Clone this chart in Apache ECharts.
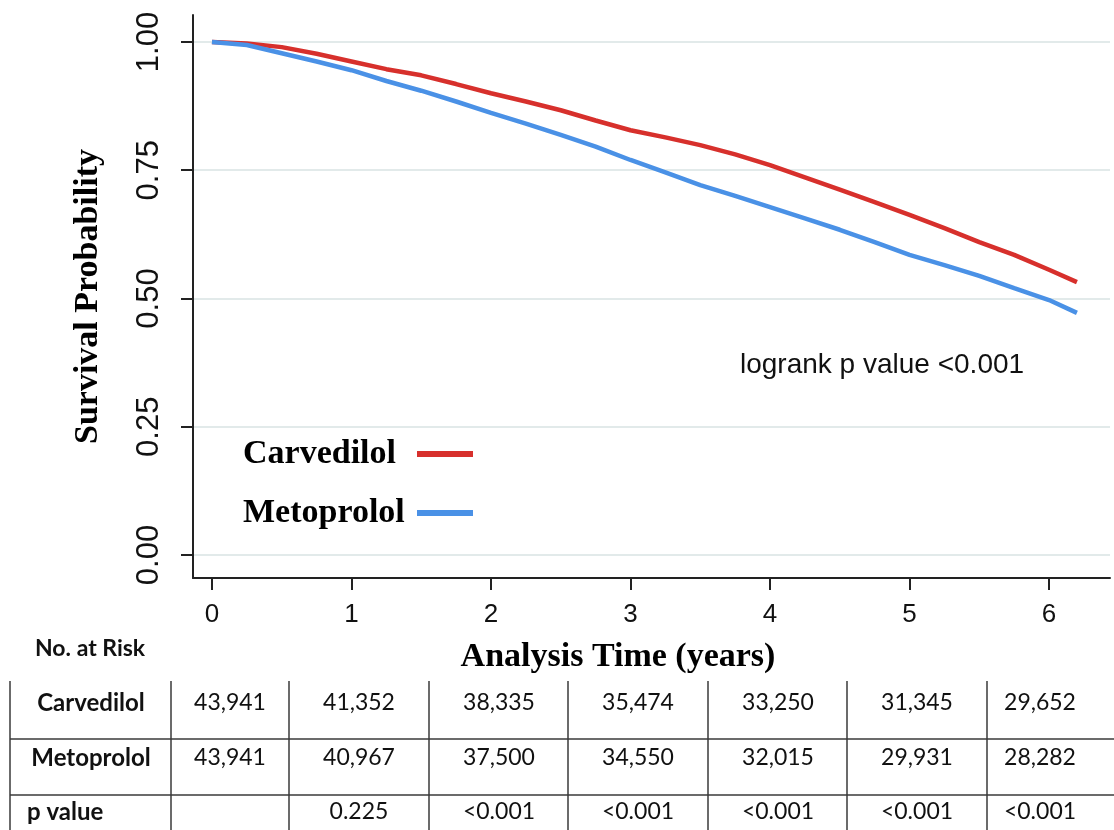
<!DOCTYPE html>
<html>
<head>
<meta charset="utf-8">
<title>Survival</title>
<script src="https://cdn.jsdelivr.net/npm/echarts@6/dist/echarts.min.js"></script>
<style>
  html, body { margin: 0; padding: 0; background: #fff; }
  #chart { width: 1114px; height: 830px; }
</style>
</head>
<body>
<div id="chart"></div>
<script>
// survival curves (years / probability)
const years = [0, 0.25, 0.5, 0.75, 1, 1.25, 1.5, 1.75, 2, 2.25, 2.5, 2.75, 3, 3.25, 3.5, 3.75, 4, 4.25, 4.5, 4.75, 5, 5.25, 5.5, 5.75, 6, 6.2];
const carvedilol = [1.000, 0.997, 0.990, 0.977, 0.962, 0.947, 0.935, 0.918, 0.900, 0.884, 0.867, 0.847, 0.828, 0.814, 0.799, 0.781, 0.760, 0.736, 0.712, 0.688, 0.663, 0.637, 0.610, 0.585, 0.556, 0.532];
const metoprolol = [1.000, 0.994, 0.978, 0.962, 0.945, 0.924, 0.905, 0.884, 0.862, 0.841, 0.819, 0.796, 0.770, 0.746, 0.721, 0.700, 0.678, 0.656, 0.634, 0.610, 0.585, 0.565, 0.544, 0.520, 0.497, 0.472];

const xTicks = [0, 1, 2, 3, 4, 5, 6];
const yTicks = [0, 0.25, 0.5, 0.75, 1];

// number at risk table
const rowLabels = ["Carvedilol", "Metoprolol", "p value"];
const riskCarvedilol = ["43,941", "41,352", "38,335", "35,474", "33,250", "31,345", "29,652"];
const riskMetoprolol = ["43,941", "40,967", "37,500", "34,550", "32,015", "29,931", "28,282"];
const pValues = ["", "0.225", "<0.001", "<0.001", "<0.001", "<0.001", "<0.001"];

// table layout (pixels)
const colCenters = [230, 359, 499, 638, 778, 917, 1040];
const colLines = [10, 171, 289, 429, 568, 708, 847, 987];
const rowTextY = [703, 758, 812];
const rowLines = [739, 795];

const RED = "#d7302c";
const BLUE = "#4a91e6";

const chart = echarts.init(document.getElementById("chart"));

const tableGraphics = [];
colLines.forEach(function (x) {
  tableGraphics.push({
    type: "line", shape: { x1: x, y1: 681, x2: x, y2: 830 },
    style: { stroke: "#3a3a3a", lineWidth: 1.5 }
  });
});
rowLines.forEach(function (y) {
  tableGraphics.push({
    type: "line", shape: { x1: 10, y1: y, x2: 1114, y2: y },
    style: { stroke: "#3a3a3a", lineWidth: 1.5 }
  });
});
const cellFont = { fontFamily: "Lato", fontSize: 23, fill: "#111", verticalAlign: "middle" };
[riskCarvedilol, riskMetoprolol, pValues].forEach(function (row, r) {
  row.forEach(function (txt, c) {
    tableGraphics.push({
      type: "text", x: colCenters[c], y: rowTextY[r],
      style: Object.assign({ text: txt, align: "center" }, cellFont)
    });
  });
  tableGraphics.push({
    type: "text", x: r < 2 ? 91 : 27, y: rowTextY[r],
    style: Object.assign({}, cellFont, { text: rowLabels[r], align: r < 2 ? "center" : "left", fontWeight: "bold", fontSize: 24 })
  });
});

const option = {
  animation: false,
  grid: { left: 193, right: 4, top: 15, bottom: 252 },
  legend: {
    left: 243,
    top: 437,
    orient: "vertical",
    align: "right",
    padding: 0,
    itemGap: 20,
    itemWidth: 56,
    itemHeight: 6,
    icon: "rect",
    formatter: function (name) { return "{n|" + name + "}"; },
    textStyle: {
      rich: {
        n: {
          width: 169, align: "left", lineHeight: 40,
          fontFamily: "Liberation Serif", fontWeight: "bold", fontSize: 34, color: "#000"
        }
      }
    },
    data: ["Carvedilol", "Metoprolol"]
  },
  xAxis: {
    type: "value",
    min: -0.136,
    max: 6.437,
    axisLine: { show: true, onZero: false, lineStyle: { color: "#222", width: 2 } },
    axisTick: { show: true, customValues: xTicks, length: 12, lineStyle: { color: "#222", width: 2 } },
    axisLabel: {
      customValues: xTicks, margin: 24,
      fontFamily: "Liberation Sans", fontSize: 26, color: "#111"
    },
    splitLine: { show: false }
  },
  yAxis: {
    type: "value",
    min: -0.0448,
    max: 1.0526,
    name: "Survival Probability",
    nameLocation: "middle",
    nameGap: 88,
    nameTextStyle: { fontFamily: "Liberation Serif", fontWeight: "bold", fontSize: 34, color: "#000" },
    axisLine: { show: true, onZero: false, lineStyle: { color: "#222", width: 2 } },
    axisTick: { show: true, customValues: yTicks, length: 12, lineStyle: { color: "#222", width: 2 } },
    axisLabel: {
      customValues: yTicks, rotate: 90, margin: 28,
      fontFamily: "Liberation Sans", fontSize: 31, color: "#111",
      formatter: function (v) { return v.toFixed(2); }
    },
    splitLine: { show: true, lineStyle: { color: "#e2eaea", width: 2 } }
  },
  series: [
    {
      name: "Carvedilol",
      type: "line",
      data: years.map(function (t, i) { return [t, carvedilol[i]]; }),
      showSymbol: false,
      itemStyle: { color: RED },
      lineStyle: { color: RED, width: 4.5 },
      z: 2
    },
    {
      name: "Metoprolol",
      type: "line",
      data: years.map(function (t, i) { return [t, metoprolol[i]]; }),
      showSymbol: false,
      itemStyle: { color: BLUE },
      lineStyle: { color: BLUE, width: 4.5 },
      z: 3
    }
  ],
  graphic: [
    {
      type: "text", x: 740, y: 365,
      style: { text: "logrank p value <0.001", fontFamily: "Liberation Sans", fontSize: 28, fill: "#111", verticalAlign: "middle" }
    },
    {
      type: "text", x: 618, y: 657,
      style: { text: "Analysis Time (years)", fontFamily: "Liberation Serif", fontWeight: "bold", fontSize: 34, fill: "#000", align: "center", verticalAlign: "middle" }
    },
    {
      type: "text", x: 35, y: 649,
      style: { text: "No. at Risk", fontFamily: "Lato", fontWeight: "bold", fontSize: 23, fill: "#111", verticalAlign: "middle" }
    }
  ].concat(tableGraphics)
};

option.legend.itemGap = 25;
chart.setOption(option);
</script>
</body>
</html>
